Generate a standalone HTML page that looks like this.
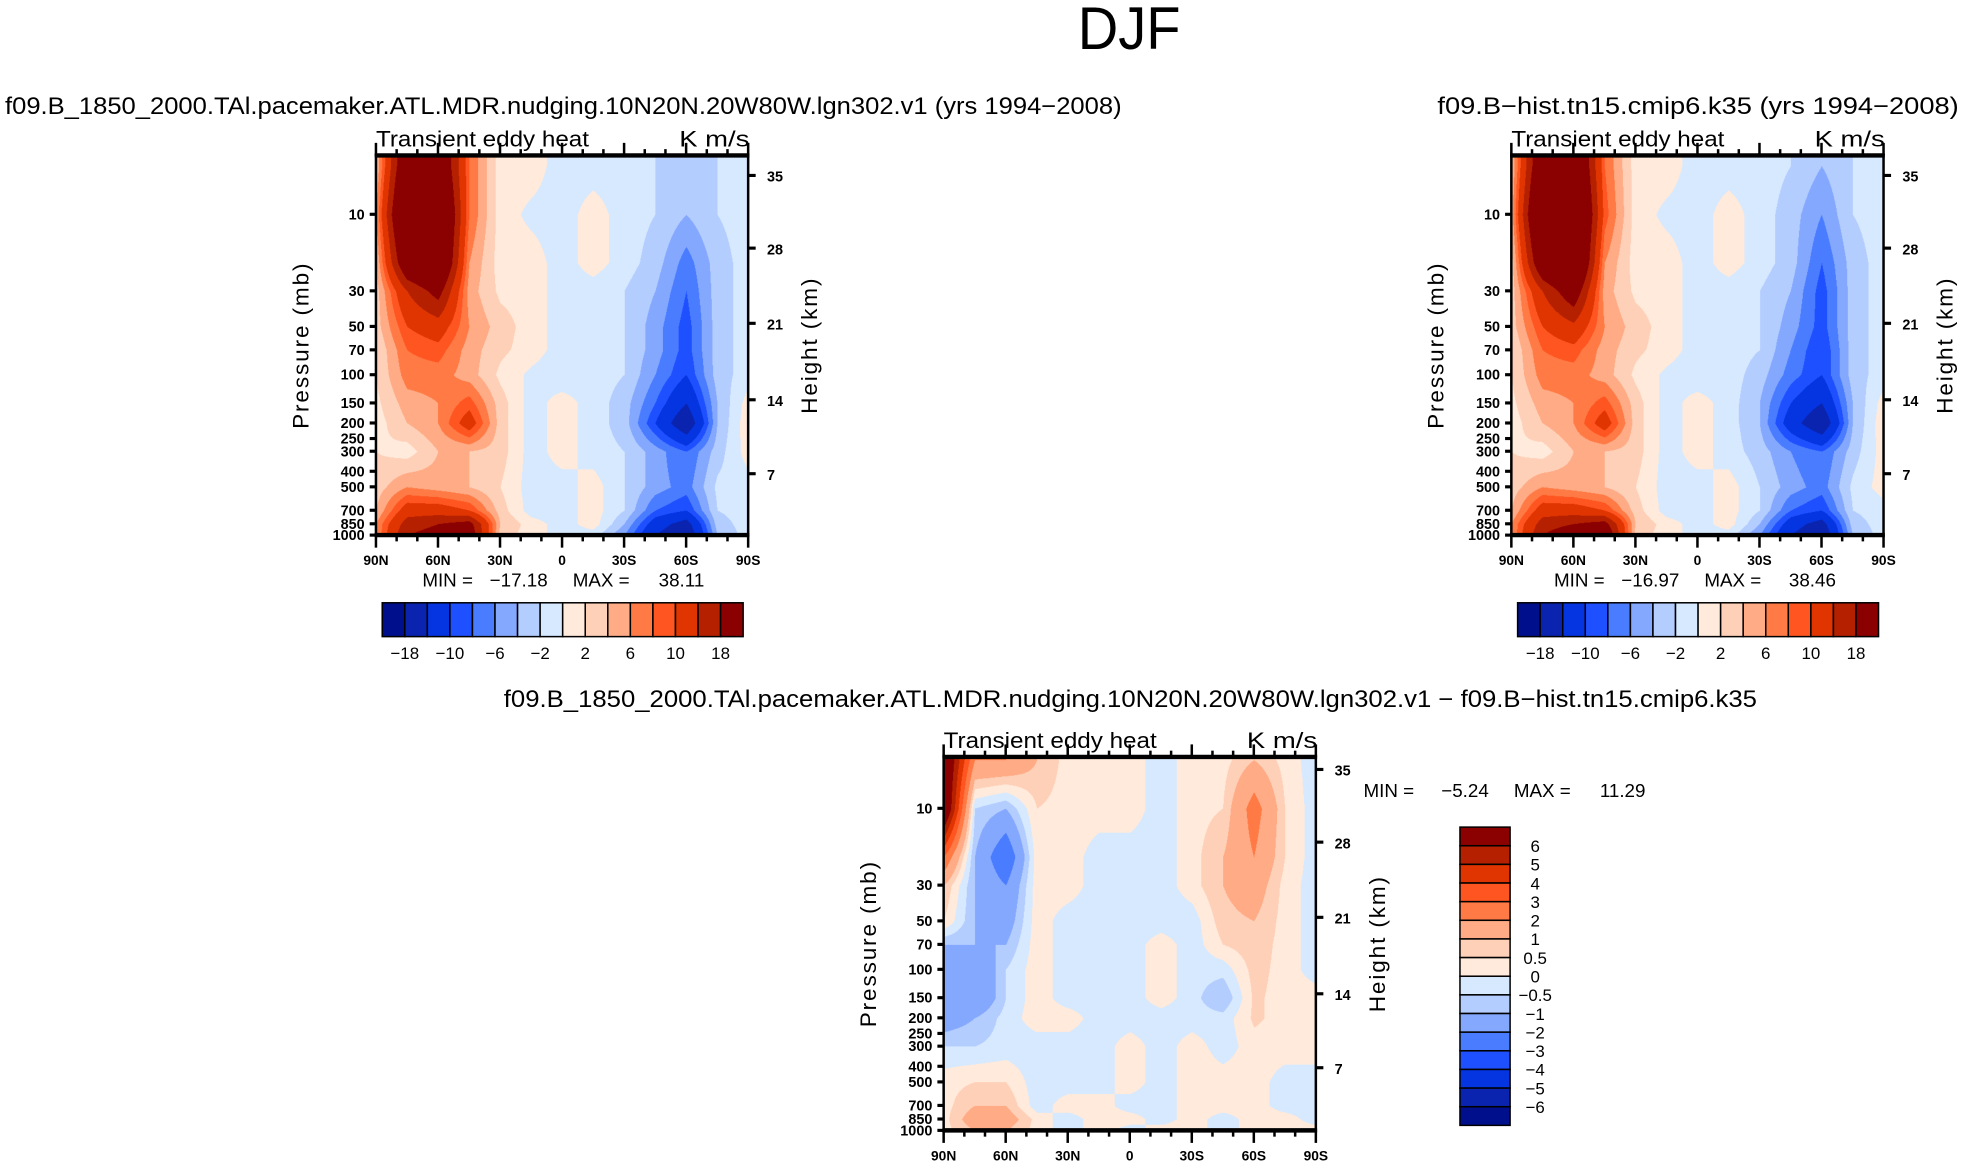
<!DOCTYPE html>
<html><head><meta charset="utf-8">
<style>
html,body{margin:0;padding:0;background:#fff;}
#root{position:relative;width:1568px;height:931px;transform:scale(1.25319);transform-origin:0 0;overflow:hidden;}
canvas{position:absolute;}
svg{position:absolute;left:0;top:0;}
text{font-family:"Liberation Sans",sans-serif;fill:#000;}
</style></head>
<body>
<div id="root">
<canvas id="c1"></canvas>
<canvas id="c2"></canvas>
<canvas id="c3"></canvas>
<svg id="ov" width="1568" height="931" viewBox="0 0 1568 931"></svg>
</div>
<script>
// ---- data ----
const latLabels = ["90N","60N","30N","0","30S","60S","90S"];
const pressureTicks = [10,30,50,70,100,150,200,250,300,400,500,700,850,1000];
const heightTicks = [35,28,21,14,7];
const pGrid = [5,10,20,30,50,70,100,150,200,300,500,700,850,1000];
// columns: 90N,75N,60N,45N,30N,15N,0,15S,30S,45S,60S,75S,90S
const panel1Values = [
 [4,25,25,8,1,1,-1,-1,-1,-2,-3,-2,-1],
 [6,30,30,8,1,-0.5,-1,1,-1,-2,-4,-2,-1],
 [4,24,28,6,1,1,-1,1,-1,-3,-7,-3,-1],
 [3,14,20,5,1.5,1,-1,-1,-2,-4,-8,-3,-1],
 [3,10,12,6,3,1,-1,-1,-2,-5,-9,-3,-1],
 [2,8,9,5,2.5,1,-1,-1,-2,-5,-9,-3,-1],
 [2,7,7,5,1.5,-0.5,-1.5,-1,-2,-6,-10,-3,-1],
 [1.5,5,6,9,3,-1,1,-1,-3,-8,-14,-4,1],
 [1,4,6,12,3,-1,1,-1,-3,-10,-18,-4,1.5],
 [2,1,4,4,3,-1,1,-1,-2,-5,-8,-3,1],
 [3,6,5,4,2,-1,-1,1,-2,-5,-7,-1.5,-1],
 [4,12,12,10,3,-1,-1,1,-2,-8,-10,-2,-1],
 [6,16,18,20,4,1,-1,1,-4,-12,-16,-3,-1],
 [6,18,20,22,3,1,-1,-1,-6,-14,-18,-4,-1]
];
const panel2Values = [
 [4,25,28,8,1,1,-1,-1,-1,-2,-4,-2,-1],
 [5,30,32,9,1,-0.5,-1,1,-1,-3,-6,-2,-1],
 [3,24,30,6,1,1,-1,1,-1,-3,-8,-3,-1],
 [3,14,22,5,1.5,1,-1,-1,-2,-4,-9,-3,-1],
 [3,10,13,6,3,1,-1,-1,-2,-5,-9,-3,-1],
 [2,8,9,5,2.5,1,-1,-1,-2,-6,-10,-3,-1],
 [2,7,7,5,1.5,-0.5,-1.5,-1,-3,-7,-10,-3,-1],
 [1.5,5,6,9,3,-1,1,-1,-4,-10,-14,-4,1],
 [1,4,6,12,3,-1,1,-1,-4,-12,-18,-4,1.5],
 [2,1,4,4,3,-1,1,-1,-3,-6,-8,-3,1],
 [3,6,5,4,2,-1,-1,1,-2,-5,-7,-1.5,1],
 [4,12,12,10,3,-1,-1,1,-2,-8,-10,-2,-1],
 [6,16,18,20,4,1,-1,1,-4,-12,-16,-3,-1],
 [6,18,22,24,3,1,-1,-1,-6,-14,-18,-4,-1]
];
const diffValues = [
 [8,2,2,1,0.3,0.3,0.3,-0.3,0.3,0.3,1,0.3,-0.3],
 [8,-0.5,-1,0.5,0.3,0.3,0.3,-0.3,0.3,0.5,2.5,0.5,-0.3],
 [3,-1,-3,0.3,0.3,-0.3,-0.3,-0.3,0.3,1,2,0.5,-0.3],
 [1,-1,-2,0.3,0.3,-0.3,-0.3,-0.3,0.3,1,1.5,0.3,-0.3],
 [0.5,-1,-1.5,0.3,-0.3,-0.3,-0.3,-0.3,-0.3,0.8,1,0.3,-0.3],
 [-1,-1,-1,0.3,-0.3,-0.3,-0.3,0.3,-0.3,0.5,0.8,0.3,-0.3],
 [-2,-2,-0.5,0.3,-0.3,-0.3,-0.3,0.3,-0.3,-0.3,0.7,0.3,-0.3],
 [-2,-2,-0.5,0.3,-0.3,-0.3,-0.3,0.3,-0.3,-1,0.6,0.3,0.3],
 [-1.5,-1,-0.3,0.3,0.3,-0.3,-0.3,-0.3,-0.3,-0.3,0.6,0.3,0.3],
 [-0.5,-0.5,-0.3,-0.3,-0.3,-0.3,0.3,-0.3,0.3,-0.3,0.3,0.3,0.3],
 [0.3,0.5,0.5,-0.3,-0.3,-0.3,0.3,-0.3,0.3,0.3,0.3,-0.3,-0.3],
 [0.3,1,1,-0.3,0.3,0.3,-0.3,-0.3,0.3,0.3,0.3,-0.3,-0.3],
 [0.3,1.5,1.5,0.3,-0.3,0.3,0.3,-0.3,0.3,-0.3,0.3,0.3,-0.3],
 [0.3,1,1,0.3,-0.3,0.3,-0.3,0.3,0.3,-0.3,0.3,0.3,0.3]
];
const levelsMain = [-18,-14,-10,-8,-6,-4,-2,0,2,4,6,8,10,14,18];
const levelsMainLabels = ["−18","−10","−6","−2","2","6","10","18"];
const levelsDiff = [-6,-5,-4,-3,-2,-1,-0.5,0,0.5,1,2,3,4,5,6];
const levelsDiffLabels = ["6","5","4","3","2","1","0.5","0","−0.5","−1","−2","−3","−4","−5","−6"];
const palette = ["#00108c","#0a24b0","#0535e0","#1f50ff","#4a7cff","#85a8ff","#b4cdff","#d6e9ff","#ffeadb","#ffd0b8","#ffab85","#ff7a45","#ff5520","#e03500","#b52000","#8b0000"];

// ---- helpers ----
const NS="http://www.w3.org/2000/svg";
const ov=document.getElementById('ov');
function mk(tag,attrs,parent){const e=document.createElementNS(NS,tag);for(const k in attrs)e.setAttribute(k,attrs[k]);(parent||ov).appendChild(e);return e;}
function txt(s,x,y,size,anchor,extra,parent){const t=mk('text',Object.assign({x:x,y:y,'font-size':size,'text-anchor':anchor||'start'},extra||{}),parent);t.textContent=s;return t;}
function hex(c){return [parseInt(c.slice(1,3),16),parseInt(c.slice(3,5),16),parseInt(c.slice(5,7),16)];}
const palRGB=palette.map(hex);
function colorIdx(v,levels){let i=0;while(i<levels.length&&v>=levels[i])i++;return i;}
const lg=pGrid.map(p=>Math.log10(p));
function sample(grid,fx,lp){
  let c=fx*12;c=Math.max(0,Math.min(12,c));const c0=Math.min(11,Math.floor(c)),tc=c-c0;
  let r=0; if(lp<=lg[0]){r=0;} else if(lp>=lg[lg.length-1]){r=lg.length-1;} else {for(let i=0;i<lg.length-1;i++){if(lp>=lg[i]&&lp<=lg[i+1]){r=i+(lp-lg[i])/(lg[i+1]-lg[i]);break;}}}
  const r0=Math.min(lg.length-2,Math.floor(r)),tr=r-r0;
  const a=grid[r0][c0]*(1-tc)+grid[r0][c0+1]*tc;
  const b=grid[r0+1][c0]*(1-tc)+grid[r0+1][c0+1]*tc;
  return a*(1-tr)+b*tr;
}
function yP(P,p){return P.y10+(Math.log10(p)-1)*P.dec;}

function drawPanel(P){
  const cv=document.getElementById(P.canvas);
  const S=2;cv.width=P.w*S;cv.height=P.h*S;
  cv.style.left=P.x0+'px';cv.style.top=P.y0+'px';cv.style.width=P.w+'px';cv.style.height=P.h+'px';
  const ctx=cv.getContext('2d');const im=ctx.createImageData(cv.width,cv.height);
  for(let py=0;py<cv.height;py++){
    const yd=P.y0+py/S;const lp=1+(yd-P.y10)/P.dec;
    for(let px=0;px<cv.width;px++){
      const v=sample(P.data,px/cv.width,lp);
      const col=palRGB[colorIdx(v,P.levels)];
      const k=(py*cv.width+px)*4;im.data[k]=col[0];im.data[k+1]=col[1];im.data[k+2]=col[2];im.data[k+3]=255;
    }
  }
  ctx.putImageData(im,0,0);
  const g=mk('g',{});
  
  
  const x1=P.x0+P.w,y1=P.y0+P.h;
  mk('rect',{x:P.x0,y:P.y0,width:P.w,height:P.h,fill:'none',stroke:'#000','stroke-width':2},g);
  mk('line',{x1:P.x0-1,y1:P.y0,x2:x1+1,y2:P.y0,stroke:'#000','stroke-width':3.5},g);
  mk('line',{x1:P.x0-1,y1:y1,x2:x1+1,y2:y1,stroke:'#000','stroke-width':3.5},g);
  for(let i=0;i<=18;i++){
    const x=P.x0+P.w*i/18;const maj=i%3===0;const L=maj?10:5;
    mk('line',{x1:x,y1:P.y0,x2:x,y2:P.y0-L,stroke:'#000','stroke-width':2},g);
    mk('line',{x1:x,y1:y1,x2:x,y2:y1+L,stroke:'#000','stroke-width':2},g);
  }
  latLabels.forEach((s,i)=>{const t=txt(s,P.x0+P.w*i/6,y1+24,11,'middle',{'font-weight':'bold'},g);
    });
  pressureTicks.forEach(p=>{const y=yP(P,p);
    mk('line',{x1:P.x0,y1:y,x2:P.x0-5,y2:y,stroke:'#000','stroke-width':2.5},g);
    const t=txt(String(p),P.x0-9,y+4,11.5,'end',{'font-weight':'bold'},g);
    });
  heightTicks.forEach((h,i)=>{const y=P.hy[i];
    mk('line',{x1:x1,y1:y,x2:x1+6,y2:y,stroke:'#000','stroke-width':2.5},g);
    const t=txt(String(h),x1+15,y+5,11.5,'start',{'font-weight':'bold'},g);
    });
  const cy=P.y0+P.h/2;
  const yl=txt('Pressure (mb)',0,0,18,'middle',{transform:`translate(${P.x0-54},${cy}) rotate(-90)`,'letter-spacing':'1.5'},g);
  
  const hl=txt('Height (km)',0,0,18,'middle',{transform:`translate(${x1+55},${cy}) rotate(-90)`,'letter-spacing':'1.5'},g);
  
  const lt=txt('Transient eddy heat',P.x0,P.y0-7,18,'start',{textLength:170,lengthAdjust:'spacingAndGlyphs'},g);
  
  const rt=txt('K m/s',x1+1,P.y0-7,18,'end',{textLength:56,lengthAdjust:'spacingAndGlyphs'},g);
  
}

const dj=txt('DJF',901,39,48,'middle',{textLength:82,lengthAdjust:'spacingAndGlyphs'});


const t1=txt('f09.B_1850_2000.TAl.pacemaker.ATL.MDR.nudging.10N20N.20W80W.lgn302.v1 (yrs 1994−2008)',4,91,19,'start',{textLength:891,lengthAdjust:'spacingAndGlyphs'});

const t2=txt('f09.B−hist.tn15.cmip6.k35 (yrs 1994−2008)',1147,91,19,'start',{textLength:416,lengthAdjust:'spacingAndGlyphs'});

const t3=txt('f09.B_1850_2000.TAl.pacemaker.ATL.MDR.nudging.10N20N.20W80W.lgn302.v1 − f09.B−hist.tn15.cmip6.k35',402,564,19,'start',{textLength:1000,lengthAdjust:'spacingAndGlyphs'});


const P1={name:'panel-1',canvas:'c1',x0:300,y0:124,w:297,h:303,y10:171,dec:128,hy:[140,198,258,319,378],data:panel1Values,levels:levelsMain};
const P2={name:'panel-2',canvas:'c2',x0:1206,y0:124,w:297,h:303,y10:171,dec:128,hy:[140,198,258,319,378],data:panel2Values,levels:levelsMain};
const P3={name:'panel-diff',canvas:'c3',x0:753,y0:604,w:297,h:298,y10:645,dec:128.5,hy:[614,672,732,793,852],data:diffValues,levels:levelsDiff};
[P1,P2,P3].forEach(drawPanel);

function minmax(x,y,mn,mx,name){
  const g=mk('g',{});
  
  
  txt('MIN =',x,y,15,'start',{},g);
  txt(mn,x+100,y,15,'end',{},g);
  txt('MAX =',x+120,y,15,'start',{},g);
  txt(mx,x+225,y,15,'end',{},g);
}
minmax(337,468,'−17.18','38.11','panel-1-minmax');
minmax(1240,468,'−16.97','38.46','panel-2-minmax');
minmax(1088,636,'−5.24','11.29','diff-minmax');

function hbar(x0,name){
  const g=mk('g',{});
  
  
  const bw=18,y0=481,h=27;
  palette.forEach((c,i)=>{const r=mk('rect',{x:x0+i*bw,y:y0,width:bw,height:h,fill:c,stroke:'#000','stroke-width':1.2},g);
    });
  levelsMainLabels.forEach((s,j)=>{const t=txt(s,x0+bw*(1+2*j),526,13.5,'middle',{},g);
    });
}
hbar(305,'colorbar-panel-1');hbar(1211,'colorbar-panel-2');
(function(){
  const g=mk('g',{});
  
  
  const x0=1165,y0=660,bh=238/16;
  palette.slice().reverse().forEach((c,i)=>{const r=mk('rect',{x:x0,y:y0+i*bh,width:40,height:bh,fill:c,stroke:'#000','stroke-width':1.2},g);
    });
  levelsDiffLabels.forEach((s,j)=>{const t=txt(s,1225,y0+bh*(j+1)+5,13.5,'middle',{},g);
    });
})();
</script>
</body></html>
